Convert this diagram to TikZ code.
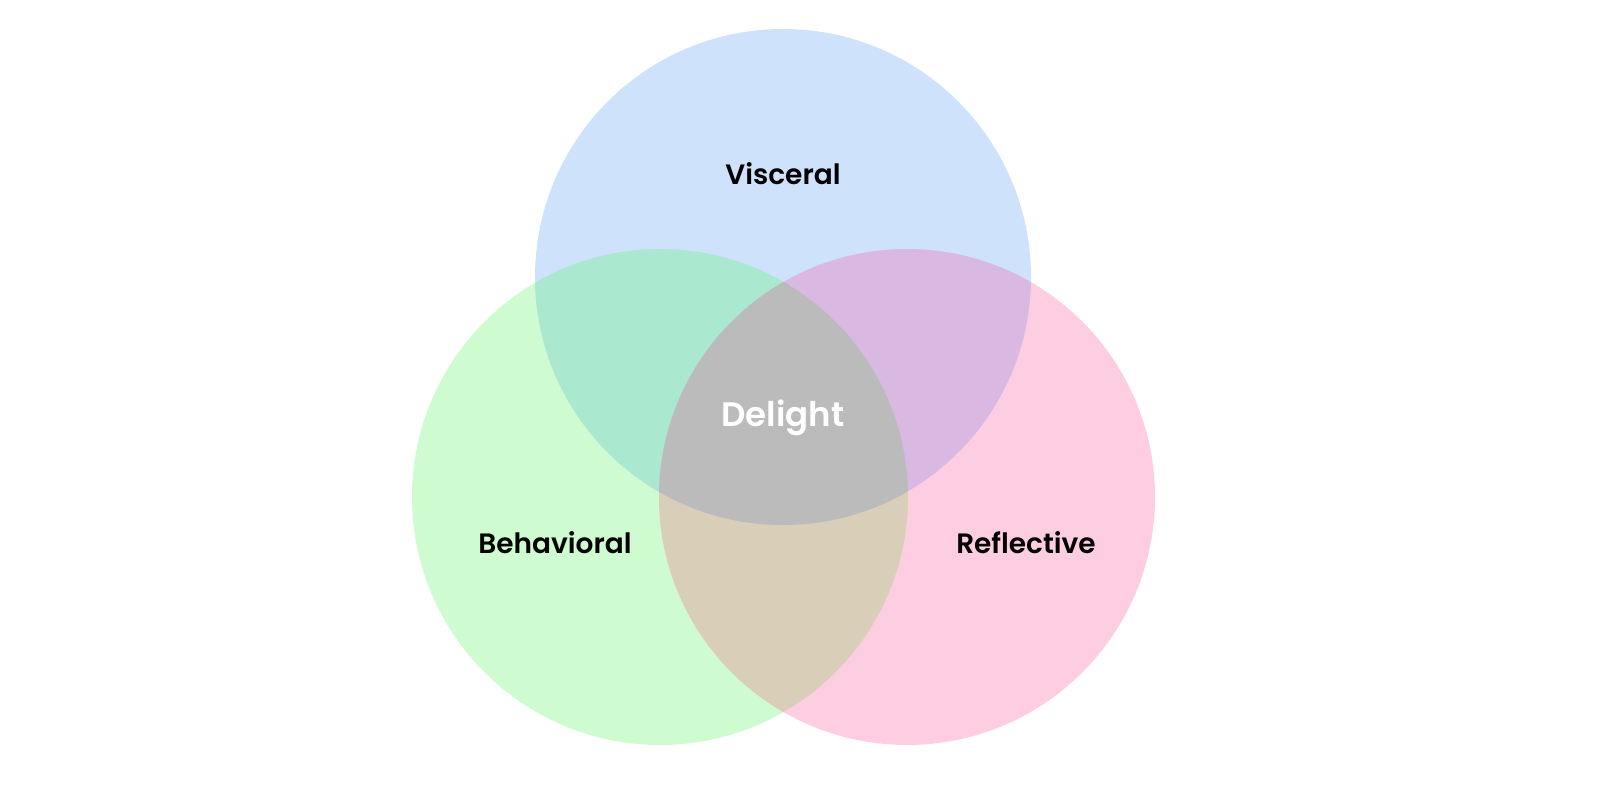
\documentclass[tikz,border=0pt]{standalone}
\usepackage{fontspec}
\setmainfont{Poppins}[BoldFont={* SemiBold}]
\definecolor{cb}{HTML}{CFE2FB}
\definecolor{cg}{HTML}{CFFBD0}
\definecolor{cp}{HTML}{FDCEE2}
\definecolor{cbg}{HTML}{ABE8D0}
\definecolor{cbp}{HTML}{D9B8E2}
\definecolor{cgp}{HTML}{D9CFB9}
\definecolor{cgray}{HTML}{BBBBBB}
\begin{document}
\begin{tikzpicture}[x=1pt,y=-1pt,
  lab/.style={font=\fontsize{28}{34}\selectfont\bfseries,text=black}]
\useasboundingbox (0,0) rectangle (1600,791);
\def\R{248}
\def\ctop{(783,277) circle[radius=\R]}
\def\clft{(660,497) circle[radius=\R]}
\def\crgt{(907,497) circle[radius=\R]}
\fill[cg] \clft; \fill[cp] \crgt; \fill[cb] \ctop;
\begin{scope}\clip \clft; \fill[cgp] \crgt; \end{scope}
\begin{scope}\clip \ctop; \fill[cbg] \clft; \end{scope}
\begin{scope}\clip \ctop; \fill[cbp] \crgt; \end{scope}
\begin{scope}\clip \ctop; \clip \clft; \fill[cgray] \crgt; \end{scope}
\node[lab] (v) at (783,174) {Visceral};
\node[lab,text=white,font=\fontsize{34}{40}\selectfont\bfseries] (d) at (783,418) {Delight};
\node[lab] (b) at (555,543) {Behavioral};
\node[lab] (r) at (1026,543) {Reflective};
\end{tikzpicture}
\end{document}
